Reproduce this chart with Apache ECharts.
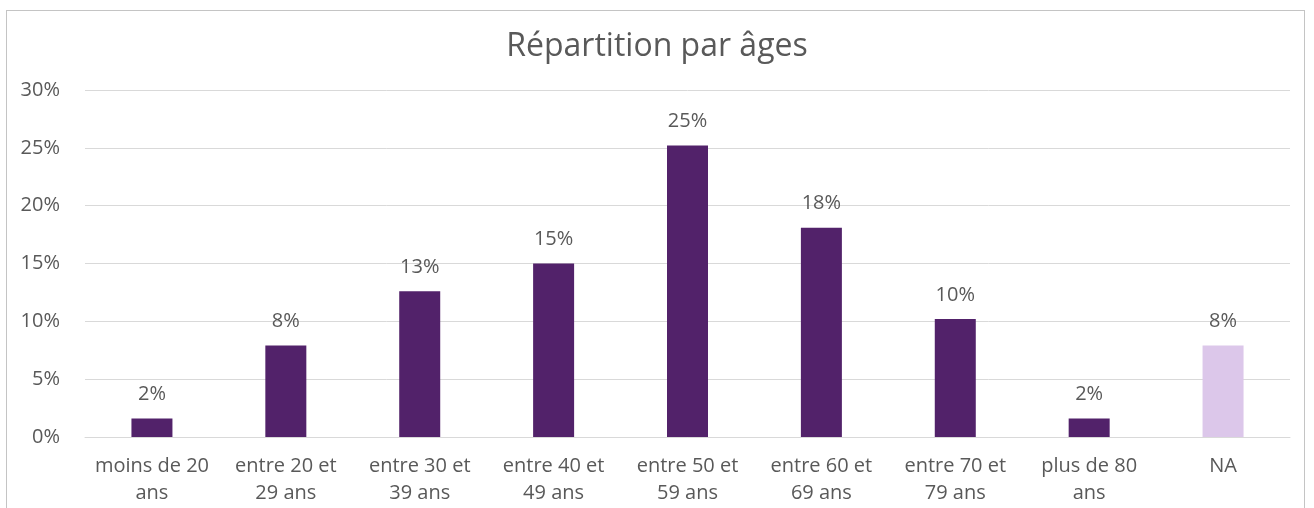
<!DOCTYPE html>
<html><head><meta charset="utf-8">
<script src="https://cdn.jsdelivr.net/npm/echarts@6/dist/echarts.min.js"></script>
<style>
html,body{margin:0;padding:0;background:#fff;overflow:hidden;}
#frame{position:absolute;left:6px;top:10px;width:1299px;height:520px;border:1px solid #c4c4c4;box-sizing:border-box;}
#chart{position:absolute;left:0;top:0;width:1314px;height:508px;}
</style></head>
<body>
<div id="frame"></div>
<div id="chart"></div>
<script>
const titleText = "Répartition par âges";
const categories = ["moins de 20\nans","entre 20 et\n29 ans","entre 30 et\n39 ans","entre 40 et\n49 ans","entre 50 et\n59 ans","entre 60 et\n69 ans","entre 70 et\n79 ans","plus de 80\nans","NA"];
const values = [1.6, 7.9, 12.6, 15.0, 25.2, 18.1, 10.2, 1.6, 7.9];
const highlightIndex = [8];
const yTicks = [0, 5, 10, 15, 20, 25, 30];

const mainColor = "#52226a";
const naColor = "#dcc7ea";
const font = "'Open Sans', 'Noto Sans', sans-serif";

const chart = echarts.init(document.getElementById('chart'), null, {renderer:'canvas'});
chart.setOption({
  animation:false,
  title:{text:titleText,left:'center',top:26,textStyle:{fontFamily:font,fontSize:32,fontWeight:'normal',color:'#595959'}},
  grid:{left:85,right:24,top:90,bottom:71,containLabel:false},
  xAxis:{type:'category',data:categories,
    axisLine:{lineStyle:{color:'#d9d9d9',width:1}},axisTick:{show:false},
    axisLabel:{interval:0,margin:16,fontFamily:font,fontSize:20,color:'#595959',lineHeight:27}},
  yAxis:{type:'value',min:yTicks[0],max:yTicks[yTicks.length-1],interval:5,
    axisLine:{show:false},axisTick:{show:false},
    splitLine:{lineStyle:{color:'#d9d9d9',width:1}},
    axisLabel:{formatter:v=>v+'%',margin:25,fontFamily:font,fontSize:20,color:'#595959'}},
  series:[{type:'bar',barWidth:41,
    data:values.map((v,i)=>({value:v,itemStyle:{color:highlightIndex.includes(i)?naColor:mainColor}})),
    label:{show:true,position:'top',distance:14,formatter:p=>Math.round(p.value)+'%',fontFamily:font,fontSize:20,color:'#595959'}}]
});
</script>
</body></html>
